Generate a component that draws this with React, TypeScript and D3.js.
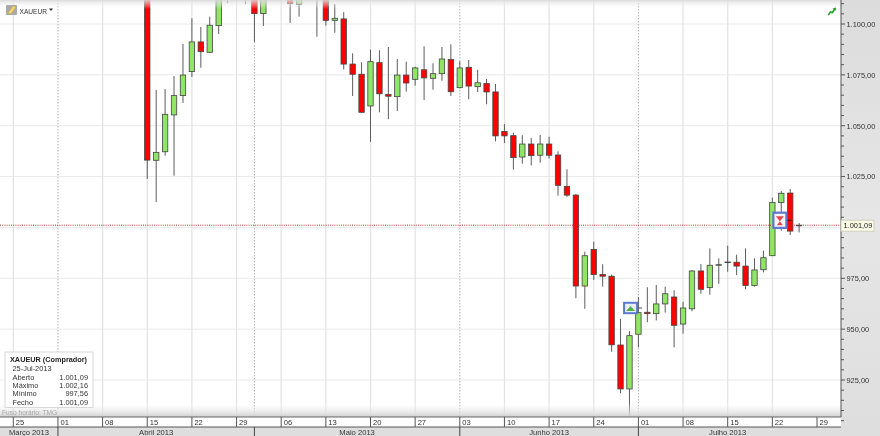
import * as d3 from "d3";
import React, { useEffect, useRef } from "react";

const width = 880;
const height = 436;

// sessions are counted from Mon 25 Mar 2013, the first candle is Mon 15 Apr
const firstSession = 15;
const lastSession = 90;

const opens = [
  1132, 1033.0, 1037.2, 1055.3, 1064.8, 1076.6, 1091.2, 1086.1, 1099.2, 1116,
  1125, 1120, 1122, 1105.1, 1120, 1124, 1118, 1109.7, 1116, 1113,
  1120, 1101.8, 1102.5, 1080.3, 1075.3, 1059.7, 1081.0, 1065.4, 1064.3, 1074.9,
  1072.8, 1077.5, 1073.3, 1075.6, 1082.6, 1068.7, 1078.7, 1069.2, 1070.8, 1066.6,
  1047.2, 1045.1, 1034.6, 1041.0, 1035.5, 1041.0, 1035.6, 1020.2, 1015.9, 971.2,
  989.2, 976.9, 976.0, 942.2, 920.6, 947.5, 958.3, 957.6, 962.4, 965.8,
  952.5, 960.0, 978.6, 970.4, 981.4, 983.0, 982.9, 981.0, 971.5, 979.2,
  986.1, 1012.3, 1016.9, 1001.09,
];
const highs = [
  1140, 1067.6, 1068.0, 1074.4, 1090.2, 1102.8, 1098.5, 1103.6, 1125, 1128,
  1135, 1126, 1126, 1122, 1130, 1128, 1120, 1120, 1122, 1124,
  1124, 1109.8, 1105.8, 1085.6, 1081.2, 1087.4, 1087.1, 1088.7, 1082.8, 1081.5,
  1079.0, 1089.0, 1080.7, 1088.7, 1090.0, 1081.7, 1082.3, 1077.5, 1073.0, 1070.5,
  1050.8, 1046.6, 1045.3, 1044.0, 1045.4, 1044.6, 1037.4, 1028.6, 1016.4, 988.1,
  993.0, 981.9, 976.8, 955.1, 949.0, 965.8, 970.6, 971.7, 970.9, 969.1,
  963.5, 979.1, 982.0, 989.7, 984.8, 991.0, 986.6, 989.7, 984.8, 988.6,
  1014.6, 1017.9, 1018.9, 1002.16,
];
const lows = [
  1023.8, 1012.5, 1035.3, 1025.4, 1061.2, 1074.0, 1078.5, 1085.7, 1095.1, 1110.3,
  1114, 1109.8, 1091.2, 1099.0, 1114, 1113, 1100.5, 1103.6, 1113, 1093.8,
  1099.2, 1095.7, 1077.7, 1064.6, 1056.2, 1042.1, 1056.6, 1053.2, 1057.2, 1066.7,
  1069.7, 1062.6, 1067.7, 1072.1, 1064.6, 1068.4, 1063.0, 1066.6, 1060.5, 1042.3,
  1041.5, 1028.4, 1031.3, 1030.5, 1031.8, 1033.8, 1015.6, 1015.0, 965.2, 960.0,
  974.2, 970.9, 938.9, 918.5, 907.0, 941.0, 953.4, 954.3, 958.1, 941.0,
  947.8, 958.8, 967.4, 966.9, 972.3, 978.2, 976.6, 969.6, 970.9, 977.9,
  986.1, 998.4, 996.3, 997.56,
];
const closes = [
  1033.1, 1036.9, 1055.6, 1064.8, 1074.9, 1091.2, 1086.4, 1099.4, 1118, 1122,
  1130, 1115, 1105.1, 1118, 1126, 1120, 1110.0, 1116, 1118, 1120,
  1101.8, 1102.8, 1080.3, 1075.3, 1056.6, 1081.5, 1065.7, 1064.5, 1074.9, 1071.0,
  1078.4, 1073.5, 1075.6, 1082.8, 1066.7, 1078.4, 1069.5, 1071.1, 1066.6, 1045.0,
  1045.0, 1034.3, 1041.0, 1035.3, 1041.0, 1035.5, 1020.7, 1015.9, 971.2, 986.1,
  976.9, 976.0, 942.3, 920.6, 946.8, 958.1, 957.6, 962.4, 967.4, 951.9,
  960.4, 978.6, 969.6, 981.4, 981.7, 983.0, 981.0, 971.5, 979.1, 985.1,
  1012.3, 1016.8, 998.2, 1001.09,
];

const weekLabels = ["25", "01", "08", "15", "22", "29", "06", "13", "20", "27", "03", "10", "17", "24", "01", "08", "15", "22", "29"];
const months = ["Março 2013", "Abril 2013", "Maio 2013", "Junho 2013", "Julho 2013"];
const monthStarts = [-1.5, 5, 27, 50, 70, 90];
const priceTicks = [925, 950, 975, 1025, 1050, 1075, 1100];
const gridPrices = [925, 950, 975, 1000, 1025, 1050, 1075, 1100];
const infoRows = [
  ["Aberto", "1.001,09"],
  ["Máximo", "1.002,16"],
  ["Mínimo", "997,56"],
  ["Fecho", "1.001,09"],
];
const lastPrice = 1001.09;

const green = "#8fe566";
const red = "#ff0000";
const font = "'Liberation Sans', Arial, sans-serif";

const App: React.FC = () => {
  const svgRef = useRef<SVGSVGElement>(null);

  useEffect(() => {
    if (!svgRef.current) return;
    const svg = d3.select(svgRef.current);
    svg.selectAll("*").remove();

    const x = d3.scaleLinear().domain([0, lastSession]).range([13.3, 817]);
    const y = d3.scaleLinear().domain([925, 1100]).range([380, 24]);
    const locale = d3.formatLocale({ decimal: ",", thousands: ".", grouping: [3], currency: ["", ""] });
    const fmt = locale.format(",.2f");

    const defs = svg.append("defs");
    const topFade = defs.append("linearGradient").attr("id", "topFade").attr("x2", 0).attr("y2", 1);
    topFade.append("stop").attr("offset", 0).attr("stop-color", "#d8d8d8").attr("stop-opacity", 0.9);
    topFade.append("stop").attr("offset", 1).attr("stop-color", "#ffffff").attr("stop-opacity", 0);
    const bottomFade = defs.append("linearGradient").attr("id", "bottomFade").attr("x2", 0).attr("y2", 1);
    bottomFade.append("stop").attr("offset", 0).attr("stop-color", "#ffffff").attr("stop-opacity", 0);
    bottomFade.append("stop").attr("offset", 1).attr("stop-color", "#cfcfcf").attr("stop-opacity", 1);
    const sideFade = defs.append("linearGradient").attr("id", "sideFade").attr("x2", 0).attr("y2", 1);
    sideFade.append("stop").attr("offset", 0).attr("stop-color", "#dcdcdc");
    sideFade.append("stop").attr("offset", 0.5).attr("stop-color", "#e6e6e6");
    sideFade.append("stop").attr("offset", 1).attr("stop-color", "#dedede");

    svg.append("rect").attr("width", width).attr("height", height).attr("fill", "#fff");

    // Grid
    const grid = svg.append("g");
    grid.selectAll(".h")
      .data(gridPrices)
      .enter()
      .append("line")
      .attr("x1", 0)
      .attr("x2", 841)
      .attr("y1", (d) => y(d))
      .attr("y2", (d) => y(d))
      .attr("stroke", "#e9e9e9")
      .attr("stroke-width", 1);
    // weeks that open a month get the dotted line below instead
    grid.selectAll(".v")
      .data(d3.range(weekLabels.length).filter((i) => !monthStarts.includes(i * 5)))
      .enter()
      .append("line")
      .attr("x1", (d) => x(d * 5))
      .attr("x2", (d) => x(d * 5))
      .attr("y1", 0)
      .attr("y2", 417)
      .attr("stroke", "#e2e2e2")
      .attr("stroke-width", 1.2);
    grid.selectAll(".d")
      .data(monthStarts.slice(1, 5))
      .enter()
      .append("line")
      .attr("x1", (d) => x(d))
      .attr("x2", (d) => x(d))
      .attr("y1", 0)
      .attr("y2", 417)
      .attr("stroke", "#b0b0b0")
      .attr("stroke-dasharray", "1.5,1.5");

    // Candles
    const candles = svg.append("g").selectAll("g").data(closes).enter().append("g");
    candles
      .append("line")
      .attr("x1", (_, i) => x(firstSession + i))
      .attr("x2", (_, i) => x(firstSession + i))
      .attr("y1", (_, i) => y(highs[i]))
      .attr("y2", (_, i) => y(lows[i]))
      .attr("stroke", "#5c5c5c")
      .attr("stroke-width", 1);
    candles
      .append("rect")
      .attr("x", (_, i) => x(firstSession + i) - 2.7)
      .attr("width", 5.4)
      .attr("y", (d, i) => y(Math.max(opens[i], d)))
      .attr("height", (d, i) => Math.max(0.6, Math.abs(y(opens[i]) - y(d))))
      .attr("fill", (d, i) => (d >= opens[i] ? green : red))
      .attr("stroke", "#444")
      .attr("stroke-width", 0.8);

    // Last price line
    svg.append("line")
      .attr("x1", 0)
      .attr("x2", 841)
      .attr("y1", y(lastPrice))
      .attr("y2", y(lastPrice))
      .attr("stroke", "#b03027")
      .attr("stroke-dasharray", "1,1.2");

    // Signal markers
    const buy = svg.append("g").attr("transform", `translate(${x(firstSession + 54) + 1.1},${y(960.4)})`);
    buy.append("rect").attr("x", -6.5).attr("y", -5.2).attr("width", 13).attr("height", 10.4).attr("fill", "#e8eef8").attr("stroke", "#5f79cf").attr("stroke-width", 2);
    buy.append("path").attr("d", d3.line()([[-4.5, 3], [0, -2], [4.5, 3]])!).attr("fill", "#55b04a");
    buy.append("line").attr("x1", 7.5).attr("x2", 11.5).attr("y1", 0).attr("y2", 0).attr("stroke", "#555");

    const sell = svg.append("g").attr("transform", `translate(${x(firstSession + 71) - 1.4},${y(1003.5)})`);
    sell.append("rect").attr("x", -6.5).attr("y", -7.6).attr("width", 13).attr("height", 15.2).attr("fill", "#f6f4f8").attr("stroke", "#5f79cf").attr("stroke-width", 2.2);
    sell.append("path").attr("d", d3.line()([[-4, -4], [4, -4], [0, 1], [3, 5], [-3, 5], [0, 1]])!).attr("fill", "#e8434a");
    sell.append("line").attr("x1", 7.5).attr("x2", 11.5).attr("y1", 0).attr("y2", 0).attr("stroke", "#222");

    // Fades at top and bottom of the plot
    svg.append("rect").attr("width", 841).attr("height", 9).attr("fill", "url(#topFade)");
    svg.append("rect").attr("y", 402).attr("width", 841).attr("height", 15).attr("fill", "url(#bottomFade)");

    // Top left symbol
    svg.append("rect").attr("x", 6).attr("y", 5).attr("width", 11).attr("height", 10).attr("fill", "#a9a9a9").attr("rx", 1);
    svg.append("path").attr("d", "M8,13 L13,6 L16,7 L11,14 Z").attr("fill", "#f2d675").attr("stroke", "#c9a53a").attr("stroke-width", 0.5);
    svg.append("text").attr("x", 19.5).attr("y", 13.5).attr("font-family", font).attr("font-size", 6.6).attr("fill", "#333").text("XAUEUR");
    svg.append("path").attr("d", "M49,8.5 L53,8.5 L51,11 Z").attr("fill", "#333");

    // Green arrow top right
    svg.append("path").attr("d", "M827.5,15 L830,11 L832,11.5 L833.5,9.5 L832.5,8.5 L836,7.5 L835.8,11 L835,10.3 L832.8,13.5 L830.8,13 L828.8,15.5 Z").attr("fill", "#2f9e2f");

    // Price axis
    svg.append("rect").attr("x", 841).attr("width", 39).attr("height", height).attr("fill", "url(#sideFade)");
    svg.append("line").attr("x1", 841).attr("x2", 841).attr("y1", 0).attr("y2", 417).attr("stroke", "#555").attr("stroke-width", 1);
    const minorTicks = d3.range(905, 1115, 5);
    svg.append("g").selectAll("line")
      .data(minorTicks)
      .enter()
      .append("line")
      .attr("x1", 841)
      .attr("x2", (d) => (d % 25 === 0 ? 845 : 844))
      .attr("y1", (d) => y(d))
      .attr("y2", (d) => y(d))
      .attr("stroke", "#555");
    svg.append("g").selectAll("text")
      .data(priceTicks)
      .enter()
      .append("text")
      .attr("x", 846.5)
      .attr("y", (d) => y(d) + 2.8)
      .attr("font-family", font)
      .attr("font-size", 7.4)
      .attr("fill", "#333")
      .text((d) => fmt(d));

    // Last price tag
    svg.append("rect").attr("x", 841).attr("y", y(lastPrice) - 5).attr("width", 33).attr("height", 11).attr("fill", "#fbfbe6").attr("stroke", "#c8c8b8").attr("stroke-width", 0.8);
    svg.append("text").attr("x", 843.5).attr("y", y(lastPrice) + 3.2).attr("font-family", font).attr("font-size", 7.4).attr("fill", "#222").text(fmt(lastPrice));

    // Date strips
    svg.append("rect").attr("y", 417).attr("width", 841).attr("height", 10).attr("fill", "#fff");
    svg.append("rect").attr("y", 427).attr("width", 880).attr("height", 9).attr("fill", "#dedede");
    svg.append("line").attr("x1", 0).attr("x2", 841).attr("y1", 417).attr("y2", 417).attr("stroke", "#666");
    svg.append("line").attr("x1", 0).attr("x2", 841).attr("y1", 427).attr("y2", 427).attr("stroke", "#555");
    const weeks = svg.append("g").selectAll("g").data(weekLabels).enter().append("g");
    weeks
      .append("line")
      .attr("x1", (_, i) => x(i * 5))
      .attr("x2", (_, i) => x(i * 5))
      .attr("y1", 417)
      .attr("y2", 427)
      .attr("stroke", "#555");
    weeks
      .append("text")
      .attr("x", (_, i) => x(i * 5) + 2.5)
      .attr("y", 425)
      .attr("font-family", font)
      .attr("font-size", 7.6)
      .attr("fill", "#333")
      .text((d) => d);
    svg.append("g").selectAll("text")
      .data(months)
      .enter()
      .append("text")
      .attr("x", (_, i) => (Math.max(x(monthStarts[i]), 0) + x(monthStarts[i + 1])) / 2)
      .attr("y", 434.5)
      .attr("text-anchor", "middle")
      .attr("font-family", font)
      .attr("font-size", 7.6)
      .attr("fill", "#333")
      .text((d) => d);
    svg.append("g").selectAll("line")
      .data(monthStarts.slice(1, 5))
      .enter()
      .append("line")
      .attr("x1", (d) => x(d))
      .attr("x2", (d) => x(d))
      .attr("y1", 427)
      .attr("y2", 436)
      .attr("stroke", "#444");

    // Info box
    svg.append("text").attr("x", 2).attr("y", 414.5).attr("font-family", font).attr("font-size", 6.6).attr("fill", "#a8a8a8").text("Fuso horário: TMG");
    const info = svg.append("g");
    info.append("rect").attr("x", 5).attr("y", 352).attr("width", 88).attr("height", 55.5).attr("fill", "#fff").attr("stroke", "#d8d8d8");
    info.append("text").attr("x", 10).attr("y", 362).attr("font-family", font).attr("font-size", 7.3).attr("font-weight", "bold").attr("fill", "#222").text("XAUEUR (Comprador)");
    info.append("text").attr("x", 12.5).attr("y", 371).attr("font-family", font).attr("font-size", 7.4).attr("fill", "#333").text("25-Jul-2013");
    infoRows.forEach(([label, value], i) => {
      info.append("text").attr("x", 12.5).attr("y", 379.7 + i * 8.3).attr("font-family", font).attr("font-size", 7.4).attr("fill", "#333").text(label);
      info.append("text").attr("x", 88).attr("y", 379.7 + i * 8.3).attr("text-anchor", "end").attr("font-family", font).attr("font-size", 7.4).attr("fill", "#333").text(value);
    });
  }, []);

  return (
    <svg
      ref={svgRef}
      width={width}
      height={height}
      style={{ position: "fixed", left: 0, top: 0, display: "block", filter: "blur(0.35px)" }}
    ></svg>
  );
};

export default App;
